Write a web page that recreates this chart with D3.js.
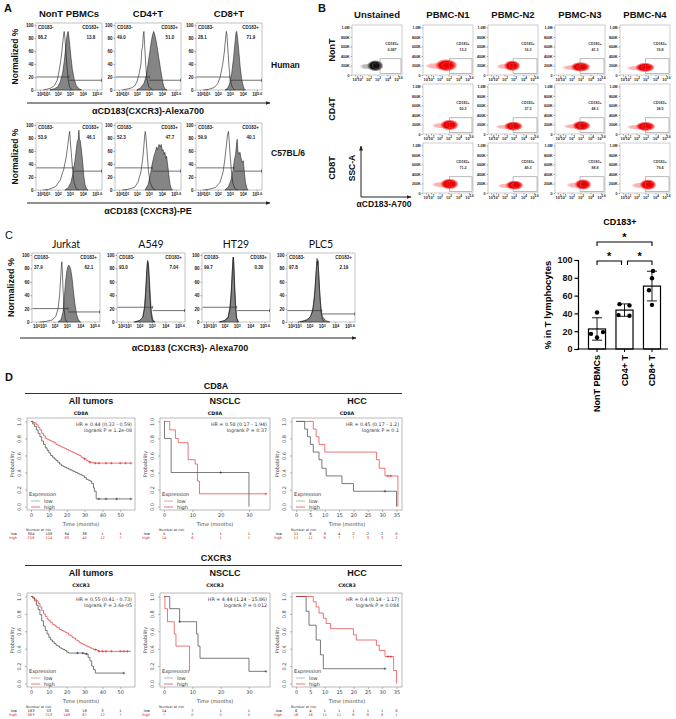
<!DOCTYPE html>
<html><head><meta charset="utf-8">
<script src="https://cdn.jsdelivr.net/npm/d3@7"></script>
<style>body{margin:0;background:#fff}svg{display:block}</style>
</head><body>
<script>
// ================= DATA =================
// Panel A
const aCols = ["NonT PBMCs", "CD4+T", "CD8+T"];
const aRows = ["Human", "C57BL/6"];
const aAxisLabels = ["αCD183(CXCR3)-Alexa700", "αCD183 (CXCR3)-PE"];
const aNeg = [["86.2", "49.0", "28.1"], ["53.9", "52.3", "59.9"]];
const aPos = [["13.8", "51.0", "71.9"], ["46.1", "47.7", "40.1"]];
const aCut = [[2.95, 3.05, 3.0], [3.27, 3.27, 3.33]];
const aGateL = [[20, 20, 20], [34, 34, 34]];
const aGateR = [[15, 15, 15], [29, 29, 29]];
const flowTicks = [0, 1, 2, 3, 4, 5.6];
const histYTicks = [0, 20, 40, 60, 80, 100];
const hNonTOpen = [[0.5,0],[1.0,1],[1.4,3],[1.7,7],[1.95,15],[2.1,28],[2.25,45],[2.35,60],[2.45,78],[2.5,86],[2.54,90],[2.6,80],[2.68,60],[2.78,35],[2.88,15],[3.0,4],[3.2,0]];
const hNonTFill = [[1.3,0],[1.7,2],[2.0,5],[2.2,12],[2.4,25],[2.55,45],[2.65,62],[2.75,80],[2.82,88],[2.87,90],[2.92,84],[3.0,70],[3.1,50],[3.2,32],[3.35,16],[3.5,7],[3.7,2],[3.9,0]];
const hCD4Open = [[0.5,0],[1.0,1],[1.5,3],[1.8,6],[2.0,12],[2.2,25],[2.35,40],[2.42,62],[2.48,65],[2.55,85],[2.6,90],[2.66,70],[2.75,40],[2.85,18],[3.0,5],[3.3,0]];
const hCD4Fill = [[2.0,0],[2.3,3],[2.6,10],[2.8,22],[2.95,40],[3.1,60],[3.2,75],[3.3,85],[3.38,90],[3.45,86],[3.6,72],[3.75,52],[3.9,32],[4.05,16],[4.2,6],[4.4,1],[4.6,0]];
const hCD8Open = [[0.5,0],[1.2,1],[1.7,4],[2.0,10],[2.2,20],[2.4,38],[2.55,58],[2.65,78],[2.72,90],[2.77,85],[2.85,62],[2.95,35],[3.05,15],[3.2,4],[3.4,0]];
const hCD8Fill = [[2.6,0],[2.85,3],[3.0,10],[3.15,25],[3.3,50],[3.4,72],[3.48,88],[3.53,90],[3.6,80],[3.7,58],[3.8,35],[3.9,18],[4.0,8],[4.15,2],[4.3,0]];
const mNonTOpen = [[0.5,0],[1.2,1],[1.8,5],[2.2,15],[2.5,32],[2.7,50],[2.85,70],[2.95,85],[3.0,90],[3.05,75],[3.15,50],[3.25,25],[3.35,10],[3.5,2],[3.7,0]];
const mNonTFill = [[2.6,0],[2.9,4],[3.1,12],[3.25,25],[3.4,45],[3.5,62],[3.58,75],[3.65,78],[3.7,92],[3.74,78],[3.8,76],[3.9,60],[4.0,40],[4.1,22],[4.25,8],[4.45,1],[4.6,0]];
const mCD4Open = [[0.5,0],[1.2,1],[1.8,4],[2.1,12],[2.35,28],[2.5,48],[2.6,68],[2.67,85],[2.72,90],[2.78,80],[2.88,55],[2.98,30],[3.1,12],[3.3,3],[3.5,0]];
const mCD4Fill = [[2.7,0],[2.95,8],[3.1,20],[3.25,38],[3.4,52],[3.5,58],[3.6,66],[3.68,62],[3.78,70],[3.88,66],[3.95,70],[4.05,60],[4.15,62],[4.25,55],[4.35,58],[4.45,48],[4.55,52],[4.65,40],[4.75,30],[4.85,18],[4.95,8],[5.1,2],[5.25,0]];
const mCD8Open = [[0.5,0],[1.2,1],[1.8,4],[2.2,12],[2.45,28],[2.6,48],[2.72,68],[2.82,85],[2.9,90],[2.95,78],[3.05,50],[3.15,25],[3.25,10],[3.4,2],[3.6,0]];
const mCD8Fill = [[2.6,0],[2.9,5],[3.1,15],[3.25,30],[3.35,45],[3.45,55],[3.52,70],[3.57,78],[3.62,60],[3.7,55],[3.78,58],[3.85,50],[3.95,42],[4.05,45],[4.15,30],[4.3,12],[4.45,3],[4.6,0]];
const aOpen = [[hNonTOpen, hCD4Open, hCD8Open], [mNonTOpen, mCD4Open, mCD8Open]];
const aFill = [[hNonTFill, hCD4Fill, hCD8Fill], [mNonTFill, mCD4Fill, mCD8Fill]];

// Panel B
const bCols = ["Unstained", "PBMC-N1", "PBMC-N2", "PBMC-N3", "PBMC-N4"];
const bRows = ["NonT", "CD4T", "CD8T"];
const bYTicks = [0, 200, 400, 600, 800, 1000];
const bYLabels = ["0", "200K", "400K", "600K", "800K", "1.0M"];
const bVals = [["0.087","13.2","16.3","41.3","19.8"],[null,"50.2","37.3","48.3","38.5"],[null,"71.2","49.3","88.8","79.4"]];
// cloud: [centre log10 x, centre SSC (K), spread log10, spread SSC (K)]
const bClouds = [
  [[2.75,195,0.85,120],[2.75,205,1.15,130],[2.85,195,0.85,115],[3.0,170,1.0,105],[2.95,160,1.0,100]],
  [null,[3.1,190,0.95,115],[3.0,165,0.95,100],[3.1,175,0.95,105],[3.0,160,1.0,100]],
  [null,[3.1,190,0.95,115],[3.1,165,0.9,100],[3.25,180,0.9,115],[3.25,175,0.9,115]]
];
const bGateX = [3.25, 3.1, 2.95, 2.95, 3.0];
const bGateY = [30, 340];

// Panel C
const cCols = ["Jurkat", "A549", "HT29", "PLC5"];
const cNeg = ["37.9", "93.0", "99.7", "97.8"];
const cPos = ["62.1", "7.04", "0.30", "2.19"];
const cCut = [3.1, 3.07, 3.0, 3.0];
const cGateL = [20, 22, 22, 17];
const cGateR = [15, 17, 17, 12];
const jurkatOpen = [[0.5,0],[1.3,1],[1.8,3],[2.1,8],[2.3,20],[2.42,40],[2.5,62],[2.56,82],[2.6,90],[2.64,80],[2.7,50],[2.78,20],[2.88,5],[3.0,0]];
const jurkatFill = [[2.3,0],[2.55,4],[2.7,15],[2.8,35],[2.9,58],[3.0,75],[3.08,82],[3.15,85],[3.22,83],[3.3,78],[3.4,65],[3.5,45],[3.6,28],[3.72,12],[3.85,4],[4.0,0]];
const a549Open = [[1.5,0],[2.0,2],[2.3,8],[2.45,25],[2.55,55],[2.62,80],[2.67,92],[2.72,88],[2.8,60],[2.88,30],[2.96,10],[3.05,2],[3.2,0]];
const a549Fill = [[1.6,0],[2.0,2],[2.25,6],[2.4,20],[2.5,45],[2.58,72],[2.64,88],[2.68,90],[2.74,85],[2.82,62],[2.9,35],[2.98,15],[3.08,4],[3.25,0]];
const ht29Open = [[1.5,0],[2.0,2],[2.3,6],[2.45,18],[2.55,40],[2.63,70],[2.69,92],[2.72,97],[2.76,88],[2.82,55],[2.9,22],[2.98,6],[3.1,0]];
const ht29Fill = [[1.6,0],[2.0,2],[2.3,8],[2.45,22],[2.55,45],[2.63,72],[2.7,95],[2.73,97],[2.78,82],[2.85,50],[2.93,20],[3.02,5],[3.15,0]];
const plc5Open = [[1.0,0],[1.6,2],[2.0,6],[2.25,15],[2.4,35],[2.5,60],[2.58,85],[2.62,95],[2.66,88],[2.7,92],[2.76,70],[2.85,40],[2.95,15],[3.05,4],[3.2,0]];
const plc5Fill = [[1.2,0],[1.8,3],[2.1,8],[2.3,22],[2.45,48],[2.55,75],[2.62,90],[2.66,85],[2.7,90],[2.76,72],[2.85,42],[2.95,18],[3.05,8],[3.3,2],[3.6,0]];
const cOpen = [jurkatOpen, a549Open, ht29Open, plc5Open];
const cFill = [jurkatFill, a549Fill, ht29Fill, plc5Fill];

// Bar chart
const barTitle = "CD183+";
const barCats = ["NonT PBMCs", "CD4+ T", "CD8+ T"];
const barPts = [[41, 17, 19, 13], [50.4, 49, 38.1, 37.3], [87.7, 79.5, 66, 49.6]];
const barYTicks = [0, 20, 40, 60, 80, 100];
const sigPairs = [[0, 1], [1, 2], [0, 2]];

// Panel D (Kaplan-Meier)
const kmGenes = ["CD8A", "CXCR3"];
const kmCohorts = ["All tumors", "NSCLC", "HCC"];
const kmTmax = [56, 36, 35.5];
const kmTicks = [[0,10,20,30,40,50],[0,10,20,30],[0,5,10,15,20,25,30,35]];
const kmHR = [["HR = 0.44 (0.33 - 0.59)","HR = 0.58 (0.17 - 1.94)","HR = 0.45 (0.17 - 1.2)"],
              ["HR = 0.55 (0.41 - 0.73)","HR = 4.44 (1.24 - 15.86)","HR = 0.4 (0.14 - 1.17)"]];
const kmP = [["logrank P = 1.2e-08","logrank P = 0.37","logrank P = 0.1"],
             ["logrank P = 3.6e-05","logrank P = 0.012","logrank P = 0.084"]];
const cd8aAllLow = [[0,1],[1,0.97],[2,0.94],[3,0.9],[4,0.86],[5,0.82],[6,0.77],[7,0.73],[8,0.69],[9,0.66],[10,0.63],[11,0.6],[12,0.58],[13,0.56],[14,0.54],[15,0.52],[16,0.5],[17,0.48],[18,0.47],[19,0.46],[20,0.45],[21,0.44],[22,0.43],[23,0.42],[24,0.41],[25,0.4],[26,0.39],[27,0.38],[28,0.37],[29,0.36],[30,0.34],[31,0.32],[32,0.31],[33,0.3],[34,0.27],[35,0.22],[35.5,0.18],[36.5,0.09],[56,0.09]];
const cd8aAllHigh = [[0,1],[1,0.99],[2,0.98],[3,0.96],[4,0.93],[5,0.9],[6,0.86],[7,0.83],[8,0.8],[9,0.79],[10,0.78],[11,0.77],[12,0.76],[13,0.75],[14,0.73],[15,0.72],[16,0.71],[17,0.7],[18,0.69],[19,0.68],[20,0.67],[21,0.66],[22,0.65],[23,0.64],[24,0.63],[25,0.62],[26,0.61],[27,0.6],[28,0.58],[29,0.57],[30,0.56],[31,0.54],[32,0.53],[33,0.52],[35,0.51],[56,0.51]];
const cd8aNscLow = [[0,1],[0.15,0.8],[2.5,0.4],[30,0]];
const cd8aNscHigh = [[0,1],[2,0.9],[4,0.8],[5,0.75],[8.5,0.55],[11,0.5],[11.8,0.3],[12.5,0.15],[36,0.15]];
const cd8aHccLow = [[0,1],[3,0.91],[4,0.82],[5,0.73],[6,0.64],[8,0.55],[9,0.45],[10.5,0.36],[16,0.27],[20,0.18],[35,0]];
const cd8aHccHigh = [[0,1],[6,0.91],[7,0.82],[8,0.73],[10,0.64],[28,0.55],[29,0.45],[31,0.36],[35.5,0]];
const cxcr3AllLow = [[0,1],[1,0.98],[2,0.95],[3,0.9],[4,0.85],[5,0.79],[6,0.72],[7,0.66],[8,0.61],[9,0.57],[10,0.53],[11,0.5],[12,0.48],[13,0.46],[14,0.44],[15,0.43],[16,0.41],[17,0.4],[18,0.39],[19,0.38],[20,0.36],[21,0.35],[30,0.34],[32,0.3],[33,0.26],[34,0.2],[35,0.16],[36,0.12],[52,0.12]];
const cxcr3AllHigh = [[0,1],[1,0.99],[2,0.97],[3,0.95],[4,0.92],[5,0.88],[6,0.84],[7,0.8],[8,0.77],[9,0.74],[10,0.72],[11,0.7],[12,0.68],[13,0.67],[14,0.65],[15,0.64],[16,0.62],[17,0.61],[18,0.6],[19,0.59],[20,0.58],[21,0.56],[22,0.55],[23,0.53],[24,0.52],[25,0.5],[26,0.49],[27,0.47],[28,0.46],[29,0.45],[30,0.44],[31,0.43],[32,0.42],[33,0.41],[34,0.4],[35,0.39],[37,0.38],[38,0.37],[56,0.37]];
const cxcr3NscLow = [[0,1],[2,0.86],[5.5,0.71],[11.5,0.57],[12,0.43],[12.7,0.29],[30,0.14],[36,0.14]];
const cxcr3NscHigh = [[0,1],[0.3,0.86],[1.2,0.71],[3.6,0.57],[4.2,0.43],[9,0.14]];
const cxcr3HccLow = [[0,1],[3.5,0.83],[4.5,0.67],[7,0.5],[8.5,0.33],[9.5,0.17],[31,0.17]];
const cxcr3HccHigh = [[0,1],[6,0.94],[7,0.88],[8,0.81],[9.5,0.75],[10.5,0.69],[12,0.63],[20,0.56],[21,0.5],[28,0.44],[29,0.38],[31,0.31],[34,0.15],[35,0]];
const kmLow = [[cd8aAllLow, cd8aNscLow, cd8aHccLow], [cxcr3AllLow, cxcr3NscLow, cxcr3HccLow]];
const kmHigh = [[cd8aAllHigh, cd8aNscHigh, cd8aHccHigh], [cxcr3AllHigh, cxcr3NscHigh, cxcr3HccHigh]];
const kmCensLow = [[[38,42,48,56],[20],[31]],[[26,29,31,52],[5.5,36],[31]]];
const kmCensHigh = [[[30,33,36,38,42,45,50,53,56],[36],[32,33]],[[36,38,40,42,45,50,52,54],[],[32,33]]];
const kmRiskLow = [[[304,159,94,38,1,1],[5,1,1,1],[11,6,3,4,2,2,2,0]],[[183,53,30,18,3,1],[14,7,1,1],[6,4,1,1,1,1,1,0]]];
const kmRiskHigh = [[[258,114,83,45,12,7],[14,6,1,1],[11,11,8,7,7,3,3,2]],[[383,213,148,67,12,7],[7,0,0,0],[16,16,11,11,8,8,8,1]]];

// ================= DRAWING =================
const F = "'Liberation Sans', Arial, sans-serif";
const FD = "'DejaVu Sans', sans-serif";
const svg = d3.select("body").append("svg").attr("width", 676).attr("height", 719);
const defs = svg.append("defs");
defs.append("marker").attr("id", "arr").attr("viewBox", "0 0 10 10").attr("refX", 9).attr("refY", 5)
  .attr("markerWidth", 5).attr("markerHeight", 5).attr("orient", "auto")
  .append("path").attr("d", "M0,1L10,5L0,9z").attr("fill", "#222");
function grad(id, c, c2) {
  const g = defs.append("radialGradient").attr("id", id);
  g.append("stop").attr("offset", "0%").attr("stop-color", c).attr("stop-opacity", 1);
  g.append("stop").attr("offset", "62%").attr("stop-color", c).attr("stop-opacity", 1);
  g.append("stop").attr("offset", "85%").attr("stop-color", c2).attr("stop-opacity", 0.6);
  g.append("stop").attr("offset", "100%").attr("stop-color", c2).attr("stop-opacity", 0);
}
grad("gr", "#e60000", "#ff3a3a"); grad("gk", "#111111", "#555555");

function txt(g, x, y, s, o = {}) {
  const t = g.append("text").attr("x", x).attr("y", y).text(s)
    .attr("font-family", o.ff || F).attr("font-size", o.fs || 9).attr("font-weight", o.fw || "bold")
    .attr("text-anchor", o.anchor || "middle").attr("fill", o.fill || "#111");
  if (o.rot != null) t.attr("transform", `rotate(${o.rot},${x},${y})`);
  return t;
}
const flowFrac = [0.06, 0.16, 0.33, 0.51, 0.71, 0.92];
function flowX(x0, w) { return d3.scaleLinear().domain(flowTicks).range(flowFrac.map(f => x0 + f * w)); }
function flowXAxis(g, xs, yb, fs) {
  const ax = g.append("g").attr("transform", `translate(0,${yb})`)
    .call(d3.axisBottom(xs).tickValues(flowTicks).tickSize(1.5).tickPadding(1.5).tickFormat(""));
  ax.select(".domain").remove();
  ax.selectAll(".tick line").attr("stroke", "#333").attr("stroke-width", 0.4);
  ax.selectAll(".tick text").attr("font-size", fs).attr("font-family", F).attr("font-weight", "bold").attr("fill", "#222")
    .each(function (d) {
      const t = d3.select(this);
      t.append("tspan").text("10");
      t.append("tspan").attr("dy", "-0.45em").attr("font-size", fs * 0.8).text(d === 5.6 ? "5.6" : d);
    });
}
function histPanel(g, x0, y0, w, h, open, fill, cut, gl, gr, neg, pos) {
  const xs = flowX(x0, w);
  const ys = d3.scaleLinear().domain([0, 103]).range([y0 + h, y0]);
  g.append("rect").attr("x", x0).attr("y", y0).attr("width", w).attr("height", h)
    .attr("fill", "#fff").attr("stroke", "#9a9a9a").attr("stroke-width", 0.6);
  const area = d3.area().x(d => xs(d[0])).y0(ys(0)).y1(d => ys(d[1]));
  const line = d3.line().x(d => xs(d[0])).y(d => ys(d[1]));
  g.append("path").attr("d", area(fill)).attr("fill", "#858585").attr("stroke", "#2a2a2a").attr("stroke-width", 0.6);
  g.append("path").attr("d", line(open)).attr("fill", "none").attr("stroke", "#1a1a1a").attr("stroke-width", 0.6);
  const xc = xs(cut);
  [[x0 + 0.5, xc, ys(gl)], [xc, x0 + w - 0.5, ys(gr)]].forEach(([a, b, y]) => {
    g.append("line").attr("x1", a).attr("x2", b).attr("y1", y).attr("y2", y).attr("stroke", "#333").attr("stroke-width", 0.7);
    g.append("line").attr("x1", b).attr("x2", b).attr("y1", y - 1.5).attr("y2", y + 1.5).attr("stroke", "#333").attr("stroke-width", 0.6);
  });
  const ya = g.append("g").attr("transform", `translate(${x0},0)`)
    .call(d3.axisLeft(ys).tickValues(histYTicks).tickSize(1.5).tickPadding(1));
  ya.select(".domain").remove();
  ya.selectAll(".tick line").attr("stroke", "#333").attr("stroke-width", 0.4);
  ya.selectAll(".tick text").attr("font-size", 4.5).attr("font-family", F).attr("font-weight", "bold").attr("fill", "#222");
  flowXAxis(g, xs, y0 + h, 4.5);
  txt(g, x0 + 2, y0 + 6, "CD183-", { fs: 4.5, anchor: "start", fill: "#222" });
  txt(g, x0 + 2, y0 + 16, neg, { fs: 4.5, anchor: "start", fill: "#222" });
  txt(g, x0 + w - 3, y0 + 6, "CD183+", { fs: 4.5, anchor: "end", fill: "#222" });
  txt(g, x0 + w - 11, y0 + 16, pos, { fs: 4.5, anchor: "middle", fill: "#222" });
}
function arrowLine(g, x1, x2, y) {
  g.append("line").attr("x1", x1).attr("x2", x2).attr("y1", y).attr("y2", y)
    .attr("stroke", "#222").attr("stroke-width", 1).attr("marker-end", "url(#arr)");
}

// ---------- Panel A ----------
const gA = svg.append("g");
txt(gA, 4, 12, "A", { fs: 11, anchor: "start" });
const aBoxX = [36, 115, 196], aW = 66, aBoxY = [23, 123], aH = 67;
aCols.forEach((c, i) => txt(gA, aBoxX[i] + aW / 2, 17, c, { fs: 9.5 }));
aRows.forEach((r, ri) => {
  aCols.forEach((c, ci) => histPanel(gA, aBoxX[ci], aBoxY[ri], aW, aH, aOpen[ri][ci], aFill[ri][ci],
    aCut[ri][ci], aGateL[ri][ci], aGateR[ri][ci], aNeg[ri][ci], aPos[ri][ci]));
  txt(gA, 18, aBoxY[ri] + aH / 2, "Normalized %", { fs: 8.5, rot: -90 });
  txt(gA, 271, aBoxY[ri] + aH / 2 + (ri ? -1 : 11), r, { fs: 8.5, anchor: "start", fw: "bold" });
  const ay = aBoxY[ri] + aH + 13;
  arrowLine(gA, 27, 270, ay);
  txt(gA, 148, ay + 11, aAxisLabels[ri], { fs: 9 });
});

// ---------- Panel B ----------
const gB = svg.append("g");
txt(gB, 318, 12, "B", { fs: 11, anchor: "start" });
const bBoxX = [352, 423, 488, 555, 620], bW = 50, bBoxY = [25, 84, 143], bH = 50;
bCols.forEach((c, i) => txt(gB, bBoxX[i] + bW / 2, 18, c, { fs: 9.5 }));
bRows.forEach((r, ri) => txt(gB, 335, bBoxY[ri] + bH / 2, r, { fs: 9, rot: -90 }));
bClouds.forEach((row, ri) => row.forEach((cl, ci) => {
  if (!cl) return;
  const x0 = bBoxX[ci], y0 = bBoxY[ri];
  const xs = flowX(x0, bW);
  const ys = d3.scaleLinear().domain([0, 1050]).range([y0 + bH, y0]);
  const g = gB.append("g");
  g.append("rect").attr("x", x0).attr("y", y0).attr("width", bW).attr("height", bH)
    .attr("fill", "#fff").attr("stroke", "#9a9a9a").attr("stroke-width", 0.5);
  const fillId = ci === 0 ? "url(#gk)" : "url(#gr)";
  const rx = xs(cl[0] + cl[2]) - xs(cl[0]), ry = ys(0) - ys(cl[3]);
  g.append("ellipse").attr("cx", xs(cl[0] - cl[2] * 0.9)).attr("cy", ys(cl[1] - 15))
    .attr("rx", rx * 1.1).attr("ry", ry * 0.55).attr("fill", fillId).attr("opacity", 0.3);
  g.append("ellipse").attr("cx", xs(cl[0])).attr("cy", ys(cl[1]))
    .attr("rx", rx).attr("ry", ry).attr("fill", fillId);
  g.append("ellipse").attr("cx", xs(cl[0] + cl[2] * 0.15)).attr("cy", ys(cl[1]))
    .attr("rx", rx * 0.6).attr("ry", ry * 0.6).attr("fill", fillId);
  const gx = xs(bGateX[ci]);
  g.append("rect").attr("x", gx).attr("y", ys(bGateY[1])).attr("width", x0 + bW - 1 - gx)
    .attr("height", ys(bGateY[0]) - ys(bGateY[1])).attr("fill", "none").attr("stroke", "#777").attr("stroke-width", 0.5);
  txt(g, x0 + bW * 0.8, ys(620), "CD183+", { fs: 3.6, fill: "#333" });
  txt(g, x0 + bW * 0.8, ys(500), bVals[ri][ci], { fs: 3.6, fill: "#333" });
  const ya = g.append("g").attr("transform", `translate(${x0},0)`)
    .call(d3.axisLeft(ys).tickValues(bYTicks).tickFormat((d, i) => bYLabels[i]).tickSize(1.5).tickPadding(1));
  ya.select(".domain").remove();
  ya.selectAll(".tick line").attr("stroke", "#333").attr("stroke-width", 0.4);
  ya.selectAll(".tick text").attr("font-size", 3.6).attr("font-family", F).attr("font-weight", "bold").attr("fill", "#222");
  flowXAxis(g, xs, y0 + bH, 3.8);
}));
// SSC-A / aCD183 axis key
gB.append("line").attr("x1", 361).attr("x2", 361).attr("y1", 197).attr("y2", 146)
  .attr("stroke", "#222").attr("stroke-width", 1).attr("marker-end", "url(#arr)");
gB.append("line").attr("x1", 361).attr("x2", 411).attr("y1", 197).attr("y2", 197)
  .attr("stroke", "#222").attr("stroke-width", 1).attr("marker-end", "url(#arr)");
txt(gB, 355, 168, "SSC-A", { fs: 8.5, rot: -90 });
txt(gB, 384, 207, "αCD183-A700", { fs: 8.5 });

// ---------- Panel C ----------
const gC = svg.append("g");
txt(gC, 5, 239, "C", { fs: 11, anchor: "start", fw: "normal" });
const cBoxX = [32, 117, 202, 287], cW = 68, cY = 253, cH = 69;
cCols.forEach((c, i) => {
  txt(gC, cBoxX[i] + cW / 2, 248, c, { fs: 10.5, fw: "normal", ff: "Lato, 'Open Sans', sans-serif" });
  histPanel(gC, cBoxX[i], cY, cW, cH, cOpen[i], cFill[i], cCut[i], cGateL[i], cGateR[i], cNeg[i], cPos[i]);
});
txt(gC, 14, cY + cH / 2, "Normalized %", { fs: 9, rot: -90 });
arrowLine(gC, 20, 356, 338);
txt(gC, 190, 351, "αCD183 (CXCR3)- Alexa700", { fs: 9 });

// ---------- Bar chart ----------
const gE = svg.append("g");
const bx = d3.scaleBand().domain(barCats).range([583, 666]).paddingInner(0.38).paddingOuter(0.2);
const by = d3.scaleLinear().domain([0, 100]).range([349, 260]);
txt(gE, 620, 225, barTitle, { fs: 9, fill: "#000" });
const yAx = gE.append("g").attr("transform", "translate(578,0)")
  .call(d3.axisLeft(by).tickValues(barYTicks).tickSize(3.5).tickPadding(2));
yAx.selectAll("path,line").attr("stroke", "#000").attr("stroke-width", 1.2);
yAx.selectAll("text").attr("font-size", 9).attr("font-weight", "bold").attr("font-family", F).attr("fill", "#111");
gE.append("line").attr("x1", 577.4).attr("x2", 668).attr("y1", 349).attr("y2", 349).attr("stroke", "#000").attr("stroke-width", 1.2);
txt(gE, 551, 305, "% in T lymphocytes", { fs: 9.5, rot: -90, fill: "#000" });
const jit = [[0, -6, 6, 0], [-5, 5, -6, 5], [1, 0, -3, 0]];
barCats.forEach((c, i) => {
  const vals = barPts[i], m = d3.mean(vals), sd = d3.deviation(vals);
  const cx = bx(c) + bx.bandwidth() / 2;
  gE.append("line").attr("x1", cx).attr("x2", cx).attr("y1", by(m + sd)).attr("y2", by(m - sd)).attr("stroke", "#000").attr("stroke-width", 0.9);
  gE.append("rect").attr("x", bx(c)).attr("y", by(m)).attr("width", bx.bandwidth()).attr("height", by(0) - by(m))
    .attr("fill", "#fff").attr("fill-opacity", 0).attr("stroke", "#000").attr("stroke-width", 1.2);
  [m + sd, m - sd].forEach(v => gE.append("line").attr("x1", cx - 5).attr("x2", cx + 5).attr("y1", by(v)).attr("y2", by(v)).attr("stroke", "#000").attr("stroke-width", 0.9));
  vals.forEach((v, k) => gE.append("circle").attr("cx", cx + jit[i][k]).attr("cy", by(v)).attr("r", 2.2).attr("fill", "#000"));
  gE.append("line").attr("x1", cx).attr("x2", cx).attr("y1", 349).attr("y2", 352).attr("stroke", "#000").attr("stroke-width", 1);
  txt(gE, cx + 3, 355, c, { fs: 9, anchor: "end", rot: -90, fill: "#000" });
});
sigPairs.forEach(([a, b]) => {
  const wide = b - a > 1;
  let xa = bx(barCats[a]) + bx.bandwidth() / 2;
  let xb = bx(barCats[b]) + bx.bandwidth() / 2;
  if (!wide) { if (a === 0) xb -= 3; else xa += 3; }
  const y = wide ? 242 : 261;
  gE.append("path").attr("d", `M${xa},${y + 4}V${y}H${xb}V${y + 4}`).attr("fill", "none").attr("stroke", "#000").attr("stroke-width", 1.1);
  txt(gE, (xa + xb) / 2, y - 1.5, "*", { fs: 11, fw: "bold", fill: "#000" });
});

// ---------- Panel D ----------
const gD = svg.append("g");
txt(gD, 5, 381, "D", { fs: 11, anchor: "start" });
const kmBoxX = [[27, 135], [160, 270], [292, 402]];
const kmRowTop = [418, 593], kmRowH = [92, 94];
const kmHeadY = [389, 561];
kmGenes.forEach((gene, gi) => {
  txt(gD, 216, kmHeadY[gi], gene, { fs: 9 });
  gD.append("line").attr("x1", 25).attr("x2", 402).attr("y1", kmHeadY[gi] + 4.5).attr("y2", kmHeadY[gi] + 4.5)
    .attr("stroke", "#333").attr("stroke-width", 1);
  kmCohorts.forEach((coh, ci) => {
    const [bx0, bx1] = kmBoxX[ci];
    const y0 = kmRowTop[gi], y1 = y0 + kmRowH[gi];
    const tm = kmTmax[ci];
    const xs = d3.scaleLinear().domain([-0.04 * tm, 1.04 * tm]).range([bx0, bx1]);
    const ys = d3.scaleLinear().domain([-0.04, 1.04]).range([y1, y0]);
    const g = gD.append("g");
    txt(g, (bx0 + bx1) / 2 + 10, kmHeadY[gi] + 15, coh, { fs: 9 });
    txt(g, (bx0 + bx1) / 2, kmHeadY[gi] + 26, gene, { fs: 4.8, ff: FD });
    g.append("rect").attr("x", bx0).attr("y", y0).attr("width", bx1 - bx0).attr("height", y1 - y0)
      .attr("fill", "none").attr("stroke", "#8a8a8a").attr("stroke-width", 0.6);
    const xa = g.append("g").attr("transform", `translate(0,${y1})`)
      .call(d3.axisBottom(xs).tickValues(kmTicks[ci]).tickSize(2).tickPadding(1.5));
    xa.select(".domain").remove();
    xa.selectAll("line").attr("stroke", "#777").attr("stroke-width", 0.5);
    xa.selectAll("text").attr("font-size", 5).attr("font-family", FD).attr("fill", "#444");
    const ya = g.append("g").attr("transform", `translate(${bx0},0)`)
      .call(d3.axisLeft(ys).tickValues([0, 0.2, 0.4, 0.6, 0.8, 1]).tickFormat(d3.format(".1f")).tickSize(2).tickPadding(1.5));
    ya.select(".domain").remove();
    ya.selectAll("line").attr("stroke", "#777").attr("stroke-width", 0.5);
    ya.selectAll("text").attr("font-size", 5).attr("font-family", FD).attr("fill", "#444")
      .attr("text-anchor", "middle").attr("dy", 0).attr("x", -6).attr("transform", "rotate(-90,-6,0)");
    txt(g, bx0 - 13.5, (y0 + y1) / 2, "Probability", { fs: 5, ff: FD, fw: "normal", fill: "#444", rot: -90 });
    txt(g, (bx0 + bx1) / 2, y1 + 15.5, "Time (months)", { fs: 5, ff: FD, fw: "normal", fill: "#444" });
    txt(g, bx1 - 3, y0 + 7.5, kmHR[gi][ci], { fs: 4.8, ff: FD, fw: "normal", fill: "#333", anchor: "end" });
    txt(g, bx1 - 3, y0 + 14, kmP[gi][ci], { fs: 4.8, ff: FD, fw: "normal", fill: "#333", anchor: "end" });
    const line = d3.line().x(d => xs(d[0])).y(d => ys(d[1])).curve(d3.curveStepAfter);
    const sAt = (arr, t) => { let s = arr[0][1]; arr.forEach(p => { if (p[0] <= t) s = p[1]; }); return s; };
    [[kmLow[gi][ci], "#222", kmCensLow[gi][ci]], [kmHigh[gi][ci], "#e31a1c", kmCensHigh[gi][ci]]].forEach(([arr, col, cens]) => {
      g.append("path").attr("d", line(arr)).attr("fill", "none").attr("stroke", col).attr("stroke-width", 0.6);
      cens.forEach(t => {
        const cx = xs(t), cy = ys(sAt(arr, t));
        g.append("path").attr("d", `M${cx},${cy - 1.3}V${cy + 1.3}M${cx - 1.3},${cy}H${cx + 1.3}`).attr("stroke", col).attr("stroke-width", 0.5);
      });
    });
    // legend
    txt(g, bx0 + 2, y1 - 14, "Expression", { fs: 5, ff: FD, fw: "normal", fill: "#333", anchor: "start" });
    [["low", "#888"], ["high", "#e31a1c"]].forEach(([lab, col], k) => {
      const ly = y1 - 9 + k * 6;
      g.append("line").attr("x1", bx0 + 4).attr("x2", bx0 + 13).attr("y1", ly).attr("y2", ly).attr("stroke", col).attr("stroke-width", 0.6);
      txt(g, bx0 + 17, ly + 1.8, lab, { fs: 5, ff: FD, fw: "normal", fill: "#333", anchor: "start" });
    });
    // risk table
    txt(g, bx0 - 1, y1 + 21, "Number at risk", { fs: 3.4, ff: FD, fw: "normal", fill: "#333", anchor: "start" });
    [["low", kmRiskLow[gi][ci], "#222"], ["high", kmRiskHigh[gi][ci], "#e31a1c"]].forEach(([lab, vals, col], k) => {
      const ry = y1 + 25 + k * 4;
      txt(g, bx0 - 10, ry, lab, { fs: 3.6, ff: FD, fw: "normal", fill: col, anchor: "end" });
      vals.forEach((v, j) => txt(g, xs(kmTicks[ci][j]), ry, v, { fs: 3.6, ff: FD, fw: "normal", fill: col }));
    });
  });
});
</script>
</body></html>
